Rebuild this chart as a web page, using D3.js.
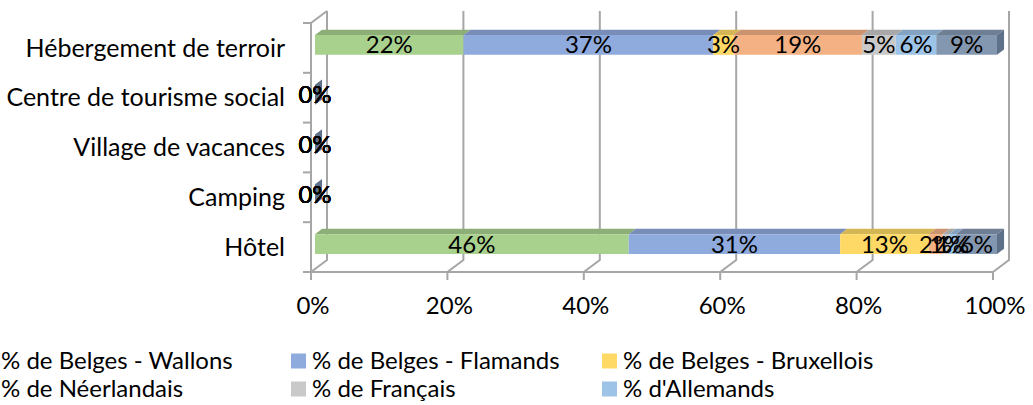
<!DOCTYPE html>
<html>
<head>
<meta charset="utf-8">
<script src="https://cdn.jsdelivr.net/npm/d3@7"></script>
<style>
  body { margin: 0; background: #fff; }
  svg text { font-family: Lato, "Open Sans", sans-serif; fill: #000; }
</style>
</head>
<body>
<svg width="1033" height="405"></svg>
<script>
// data
var categories = ["Hébergement de terroir", "Centre de tourisme social", "Village de vacances", "Camping", "Hôtel"];
var seriesNames = ["% de Belges - Wallons", "% de Belges - Flamands", "% de Belges - Bruxellois",
    "% de Néerlandais", "% de Français", "% d'Allemands", "% d'autres nationalités"];
var seriesColors = ["#a9d18e", "#8faadc", "#ffd966", "#f4b183", "#c9c9c9", "#9dc3e6", "#8497b0"];
var wallons     = [22, 0, 0, 0, 46];
var flamands    = [37, 0, 0, 0, 31];
var bruxellois  = [3, 0, 0, 0, 13];
var neerlandais = [19, 0, 0, 0, 2];
var francais    = [5, 0, 0, 0, 1];
var allemands   = [6, 0, 0, 0, 1];
var autres      = [9, 0, 0, 0, 6];
var tickValues = [0, 0.2, 0.4, 0.6, 0.8, 1];

var seriesValues = [wallons, flamands, bruxellois, neerlandais, francais, allemands, autres];

var rows = categories.map(function (c, i) {
    var r = { category: c };
    seriesNames.forEach(function (s, j) { r[s] = seriesValues[j][i]; });
    return r;
});

var svg = d3.select("svg");

// front plane scales, depth pushes things right and up
var x = d3.scaleLinear().domain([0, 1]).range([311, 993]);
var y = d3.scaleBand().domain(categories).range([23, 272]);
var depthX = 16, depthY = -12;
var barFront = 0.25, barBack = 0.69;
var barH = y.bandwidth() * 0.4;

function P(xf, yf, d) {
    return [xf + depthX * d, yf + depthY * d];
}
function poly(pts) {
    return pts.map(function (p) { return p.join(","); }).join(" ");
}

var lineColor = "#a6a6a6";
var grid = svg.append("g").attr("stroke", lineColor).attr("stroke-width", 2).attr("fill", "none");

// back wall gridlines and floor diagonals
tickValues.forEach(function (t) {
    var top = P(x(t), y.range()[0], 1), bot = P(x(t), y.range()[1], 1);
    var front = [x(t), y.range()[1]];
    grid.append("polyline").attr("points", poly([top, bot, front, [x(t), y.range()[1] + 8]]));
});
// floor front edge
grid.append("line")
    .attr("x1", x(0)).attr("x2", x(1))
    .attr("y1", y.range()[1]).attr("y2", y.range()[1]);
// left wall
grid.append("polyline")
    .attr("points", poly([[x(0), y.range()[1]], [x(0), y.range()[0]], P(x(0), y.range()[0], 1)]));
var wallTicks = categories.map(function (c) { return y(c); }).concat([y.range()[1]]);
wallTicks.forEach(function (t) {
    grid.append("line").attr("x1", x(0) - 8).attr("x2", x(0)).attr("y1", t).attr("y2", t);
});

// stacked 100% bars
var stack = d3.stack().keys(seriesNames).offset(d3.stackOffsetExpand);
var series = stack(rows);

var bars = svg.append("g");
series.forEach(function (s, j) {
    var col = seriesColors[j];
    var dark = d3.color(col).darker(0.5);
    s.forEach(function (d) {
        var x0 = x(d[0]), x1 = x(d[1]);
        if (x1 - x0 < 0.01) return;
        var yc = y(d.data.category) + y.bandwidth() / 2;
        var a = P(x0, yc - barH / 2, barFront), b = P(x1, yc - barH / 2, barFront);
        var c = P(x1, yc + barH / 2, barFront), e = P(x0, yc + barH / 2, barFront);
        var bt = P(x1, yc - barH / 2, barBack), at = P(x0, yc - barH / 2, barBack);
        bars.append("polygon").attr("points", poly([a, b, bt, at])).attr("fill", dark);
        bars.append("polygon").attr("points", poly([a, b, c, e])).attr("fill", col);
    });
});
// end side face of each stack
var last = series[series.length - 1];
last.forEach(function (d) {
    var x1 = x(d[1]);
    var yc = y(d.data.category) + y.bandwidth() / 2;
    var b = P(x1, yc - barH / 2, barFront), c = P(x1, yc + barH / 2, barFront);
    var bt = P(x1, yc - barH / 2, barBack), ct = P(x1, yc + barH / 2, barBack);
    bars.append("polygon").attr("points", poly([b, bt, ct, c])).attr("fill", "#5f7089");
});

// data labels, every series (zeros pile up on each other)
var labels = svg.append("g").attr("text-anchor", "middle").style("font-size", "24px");
series.forEach(function (s, j) {
    s.forEach(function (d, i) {
        var yc = y(d.data.category) + y.bandwidth() / 2;
        var p = P(x((d[0] + d[1]) / 2), yc, barFront);
        labels.append("text")
            .attr("x", p[0]).attr("y", p[1])
            .attr("dy", "0.35em")
            .text(seriesValues[j][i] + "%");
    });
});

// category labels
svg.append("g").selectAll("text")
    .data(categories)
    .enter().append("text")
    .attr("x", 285)
    .attr("y", function (d) { return y(d) + y.bandwidth() / 2; })
    .attr("dy", "0.35em")
    .attr("text-anchor", "end")
    .style("font-size", "25px")
    .text(function (d) { return d; });

// x tick labels
svg.append("g").selectAll("text")
    .data(tickValues)
    .enter().append("text")
    .attr("x", function (d) { return x(d) + 2; })
    .attr("y", 306)
    .attr("dy", "0.35em")
    .attr("text-anchor", "middle")
    .style("font-size", "24px")
    .text(d3.format(".0%"));

// legend, 3 columns; the third row falls below the picture, so only two rows are drawn
var legend = svg.append("g");
seriesNames.slice(0, 6).forEach(function (name, j) {
    var col = j % 3, row = Math.floor(j / 3);
    var lx = -20 + col * 311, ly = 361 + row * 28;
    legend.append("rect")
        .attr("x", lx).attr("y", ly - 7.5)
        .attr("width", 15).attr("height", 15)
        .attr("fill", seriesColors[j]);
    legend.append("text")
        .attr("x", lx + 21).attr("y", ly)
        .attr("dy", "0.35em")
        .style("font-size", "24px")
        .text(name);
});
</script>
</body>
</html>
